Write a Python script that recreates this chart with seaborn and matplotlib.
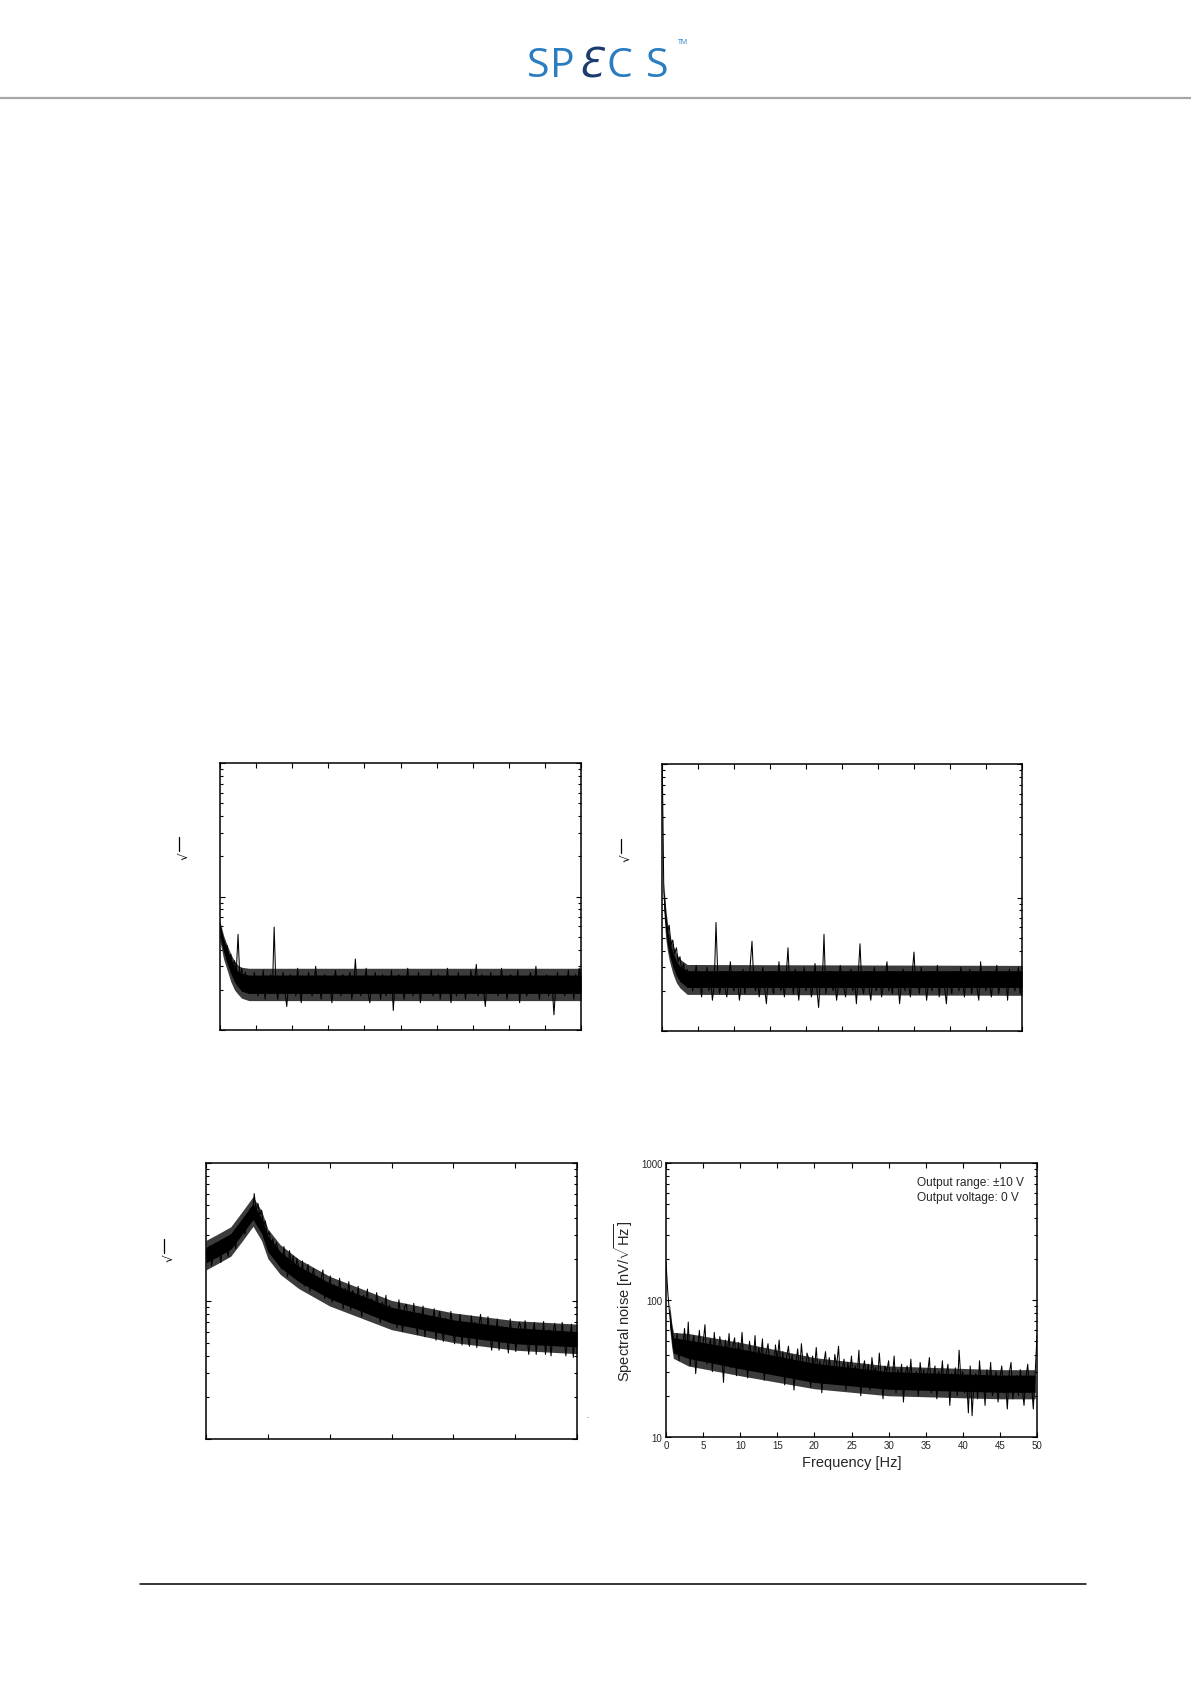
import numpy as np
import matplotlib
matplotlib.use("Agg")
import matplotlib.pyplot as plt
from matplotlib.lines import Line2D
from matplotlib.ticker import LogLocator, NullFormatter, FixedLocator
import seaborn as sns

sns.set_theme(style="ticks")
plt.rcParams['font.family'] = ['Liberation Sans', 'DejaVu Sans']
plt.rcParams['mathtext.fontset'] = 'custom'
plt.rcParams['mathtext.rm'] = 'Liberation Sans'
plt.rcParams['mathtext.it'] = 'Liberation Sans:italic'
plt.rcParams['mathtext.bf'] = 'Liberation Sans:bold'

# ---------------- data (spectral noise, nV/sqrt(Hz)) ----------------
freq_step = 0.25          # Hz, panels a, b, d
x_step_c = 0.03           # arbitrary units, panel c

tl_noise = [63, 52, 47, 40, 43, 34, 37, 30, 33, 27,
            52, 24, 29, 22, 27, 20, 25, 23, 19, 27,
            22, 18, 25, 21, 28, 17, 23, 20, 26, 19,
            59, 21, 17, 24, 22, 27, 19, 15, 23, 26,
            20, 24, 18, 29, 21, 16, 25, 22, 19, 27,
            23, 18, 21, 30, 20, 24, 17, 22, 26, 19,
            25, 21, 16, 23, 28, 20, 22, 18, 26, 24,
            19, 23, 27, 17, 21, 34, 20, 24, 18, 25,
            22, 29, 19, 16, 24, 21, 27, 20, 23, 17,
            26, 22, 18, 25, 20, 28, 14, 23, 21, 26,
            19, 24, 17, 22, 29, 20, 25, 18, 23, 21,
            27, 16, 22, 25, 19, 24, 21, 28, 18, 23,
            20, 26, 17, 22, 24, 19, 29, 21, 16, 25,
            23, 18, 27, 20, 22, 25, 17, 24, 21, 28,
            19, 23, 31, 18, 22, 26, 20, 15, 24, 21,
            27, 19, 23, 25, 18, 22, 29, 20, 24, 17,
            22, 26, 19, 24, 21, 28, 16, 23, 25, 20,
            18, 24, 27, 21, 19, 30, 22, 17, 25, 23,
            20, 26, 18, 24, 22, 13, 21, 27, 19, 23,
            25, 18, 22, 28, 20, 24, 17, 26, 21, 29,
            22]
tl_core_f = [0, 0.5, 1, 1.5, 2, 2.5, 3, 4, 50]
tl_core_lo = [50, 38.5, 31.5, 26.5, 23, 21, 19.5, 18.8, 18.8]
tl_core_hi = [61, 48, 40, 34, 30, 27.5, 26.5, 25.8, 25.8]
tl_fringe_lo = [46, 34, 28, 23, 20, 18.5, 17.3, 16.6, 16.6]
tl_fringe_hi = [65, 51, 43, 37, 33, 30.5, 29.5, 29, 29]

tr_noise = [1500, 110, 72, 56, 62, 44, 48, 38, 42, 33,
            36, 28, 32, 25, 29, 22, 27, 20, 25, 31,
            21, 24, 18, 27, 23, 30, 20, 25, 17, 22,
            65, 26, 19, 23, 28, 21, 18, 25, 33, 22,
            20, 27, 24, 17, 22, 29, 19, 25, 21, 31,
            47, 23, 20, 26, 18, 24, 30, 21, 16, 25,
            28, 22, 19, 27, 23, 33, 20, 24, 18, 26,
            42, 21, 25, 19, 29, 23, 17, 26, 22, 30,
            20, 24, 27, 18, 23, 32, 21, 15, 25, 22,
            53, 19, 26, 23, 28, 20, 24, 17, 22, 31,
            25, 21, 18, 27, 23, 29, 20, 24, 16, 26,
            45, 22, 19, 25, 28, 21, 17, 24, 30, 20,
            23, 27, 18, 22, 26, 33, 20, 24, 19, 28,
            21, 25, 16, 23, 29, 20, 26, 22, 18, 27,
            39, 21, 24, 19, 30, 22, 26, 17, 23, 28,
            20, 25, 22, 31, 18, 24, 27, 21, 16, 26,
            23, 19, 28, 22, 25, 20, 30, 24, 18, 26,
            22, 29, 19, 24, 27, 21, 17, 33, 23, 25,
            20, 28, 22, 18, 26, 24, 31, 19, 23, 27,
            21, 25, 17, 29, 22, 26, 20, 24, 30, 19,
            27]
tr_core_f = [0.25, 0.5, 0.75, 1.0, 1.5, 2.0, 2.5, 3.5, 50]
tr_core_lo = [90, 58, 45, 38, 30.5, 26, 23.5, 21.2, 21.2]
tr_core_hi = [118, 75, 58, 48, 39, 33.5, 30.5, 28.3, 28.3]
tr_fringe_lo = [80, 50, 40, 34, 27, 23, 21, 18.8, 18.5]
tr_fringe_hi = [130, 85, 65, 54, 44, 38, 34.5, 31.5, 31]

bl_noise = [232, 198, 251, 180, 220, 262, 205, 238, 190, 270,
            226, 248, 210, 292, 252, 276, 240, 318, 285, 330,
            362, 305, 415, 372, 470, 398, 600, 452, 510, 420,
            455, 350, 380, 292, 318, 260, 282, 238, 265, 221,
            225, 170, 248, 190, 150, 232, 181, 212, 146, 203,
            176, 140, 195, 128, 158, 184, 118, 150, 172, 132,
            150, 116, 144, 168, 104, 134, 122, 152, 98, 131,
            126, 101, 146, 112, 88, 124, 106, 138, 86, 119,
            112, 88, 128, 98, 77, 110, 94, 122, 80, 104,
            100, 78, 115, 88, 70, 98, 84, 110, 72, 93,
            70, 88, 82, 64, 102, 76, 60, 90, 95, 69,
            84, 66, 96, 72, 57, 82, 69, 92, 55, 78,
            61, 77, 68, 88, 52, 71, 84, 65, 51, 75,
            72, 57, 84, 64, 49, 70, 60, 80, 48, 68,
            68, 55, 47, 78, 61, 70, 46, 65, 80, 58,
            65, 52, 77, 59, 44, 64, 56, 74, 44, 62,
            50, 64, 57, 42, 74, 54, 62, 43, 61, 70,
            62, 49, 72, 56, 41, 60, 53, 70, 41, 59,
            59, 48, 71, 41, 55, 62, 40, 57, 69, 52,
            60, 47, 70, 54, 40, 58, 51, 68, 39, 57,
            58]
bl_core_x = [0, 0.2, 0.4, 0.6, 0.76, 0.9, 1.0, 1.2, 1.5, 2.0, 3.0, 4.0, 5.0, 6.0]
bl_core_lo = [189, 211, 237, 311, 390, 307, 228, 175, 138, 104, 69, 56, 49, 46.5]
bl_core_hi = [245, 274, 308, 405, 507, 399, 296, 228, 179, 135, 90, 73, 64, 60]
bl_fringe_lo = [168, 188, 211, 277, 348, 273, 203, 156, 123, 92, 62, 50, 44, 41.5]
bl_fringe_hi = [275, 307, 345, 454, 570, 448, 333, 256, 201, 151, 101, 82, 72, 68]

br_noise = [189, 112, 78, 58, 52, 41, 57, 36, 50, 44,
            62, 38, 69, 33, 47, 55, 29, 43, 60, 37,
            48, 66, 34, 45, 52, 30, 58, 41, 36, 54,
            44, 25, 51, 39, 57, 32, 46, 53, 28, 49,
            38, 58, 34, 43, 27, 50, 40, 35, 55, 31,
            45, 37, 52, 26, 41, 48, 33, 39, 29, 47,
            36, 51, 30, 42, 24, 38, 46, 32, 40, 22,
            35, 44, 29, 48, 33, 26, 41, 37, 23, 39,
            31, 45, 28, 36, 21, 34, 42, 27, 38, 30,
            25, 40, 33, 46, 26, 31, 37, 22, 35, 29,
            39, 24, 33, 28, 43, 20, 30, 36, 26, 34,
            22, 38, 29, 32, 25, 41, 27, 19, 33, 30,
            36, 24, 28, 39, 21, 31, 26, 34, 18, 29,
            33, 25, 37, 22, 28, 30, 20, 35, 26, 31,
            23, 29, 38, 21, 27, 33, 19, 30, 25, 36,
            22, 28, 34, 17, 29, 24, 32, 20, 43, 26,
            30, 21, 27, 15, 33, 14.3, 25, 29, 19, 36,
            24, 28, 17, 31, 22, 35, 20, 26, 30, 18,
            27, 33, 21, 25, 16, 29, 35, 19, 24, 28,
            20, 31, 23, 17, 27, 34, 21, 25, 16, 29,
            55]
br_core_f = [0.5, 0.75, 1, 3, 10, 20, 30, 45, 49.75]
br_core_lo = [68, 50, 41, 37.5, 31.5, 25, 22.3, 21.2, 21.2]
br_core_hi = [87, 64, 53, 51, 44, 34.5, 30, 28.3, 28.3]
br_fringe_lo = [63, 46, 37.5, 33, 28, 22.5, 20, 19, 19]
br_fringe_hi = [94, 69, 58, 57, 49, 38, 33, 31, 31]

freq_ticks = [0, 5, 10, 15, 20, 25, 30, 35, 40, 45, 50]
freq_ticklabels = ["0", "5", "10", "15", "20", "25", "30", "35", "40", "45", "50"]
c_ticks = [0, 1, 2, 3, 4, 5, 6]
y_ticks = [10, 100, 1000]
y_ticklabels = ["10", "100", "1000"]

# ---------------- figure ----------------
W, H = 1191, 1683
fig = plt.figure(figsize=(W / 100, H / 100), dpi=100)


def px_axes(x0, y0, x1, y1):
    return fig.add_axes([x0 / W, 1 - y1 / H, (x1 - x0) / W, (y1 - y0) / H])


def style_axes(ax, xlim, xticks, labels=False):
    ax.set_yscale('log')
    ax.set_ylim(10, 1000)
    ax.set_xlim(*xlim)
    ax.xaxis.set_major_locator(FixedLocator(xticks))
    ax.yaxis.set_major_locator(FixedLocator(y_ticks))
    ax.yaxis.set_minor_locator(LogLocator(base=10, subs=np.arange(2, 10)))
    ax.yaxis.set_minor_formatter(NullFormatter())
    for s in ax.spines.values():
        s.set_visible(True)
        s.set_linewidth(1.1)
        s.set_color('black')
    ax.tick_params(which='both', direction='in', top=True, right=True,
                   bottom=True, left=True, color='black', width=0.8)
    ax.tick_params(which='major', length=3.5, pad=2.5, labelsize=7)
    ax.tick_params(which='minor', length=2)
    ax.set_xlabel("")
    ax.set_ylabel("")
    if not labels:
        ax.tick_params(which='both', labelbottom=False, labelleft=False)
    ax.set_facecolor('white')


def draw(ax, x, y, cx, clo, chi, flo, fhi):
    ax.fill_between(cx, flo, fhi, color='#3c3c3c', linewidth=0)
    ax.fill_between(cx, clo, chi, color='black', linewidth=0)
    sns.lineplot(x=x, y=y, ax=ax, color='black', linewidth=0.75,
                 sort=False, errorbar=None)


f_ab = np.arange(len(tl_noise)) * freq_step
x_c = np.arange(len(bl_noise)) * x_step_c

ax_tl = px_axes(220, 764, 581, 1031)
draw(ax_tl, f_ab, tl_noise, tl_core_f, tl_core_lo, tl_core_hi, tl_fringe_lo, tl_fringe_hi)
style_axes(ax_tl, (0, 50), freq_ticks)

ax_tr = px_axes(662, 765, 1022, 1032)
draw(ax_tr, f_ab, tr_noise, tr_core_f, tr_core_lo, tr_core_hi, tr_fringe_lo, tr_fringe_hi)
style_axes(ax_tr, (0, 50), freq_ticks)

ax_bl = px_axes(206, 1164, 577, 1440)
draw(ax_bl, x_c, bl_noise, bl_core_x, bl_core_lo, bl_core_hi, bl_fringe_lo, bl_fringe_hi)
style_axes(ax_bl, (0, 6), c_ticks)

ax_br = px_axes(666, 1164, 1037, 1438)
draw(ax_br, f_ab, br_noise, br_core_f, br_core_lo, br_core_hi, br_fringe_lo, br_fringe_hi)
style_axes(ax_br, (0, 50), freq_ticks, labels=True)
ax_br.set_xticklabels(freq_ticklabels)
ax_br.set_yticks(y_ticks)
ax_br.set_yticklabels(y_ticklabels)
ax_br.set_xlabel("Frequency [Hz]", fontsize=10.5, labelpad=3)
ax_br.set_ylabel(r"Spectral noise [nV/$\sqrt{\mathrm{Hz}}$]", fontsize=10.5, labelpad=4)
ax_br.text(0.676, 0.951, "Output range: \u00b110 V\nOutput voltage: 0 V",
           transform=ax_br.transAxes, ha='left', va='top', fontsize=8.6,
           linespacing=1.3)

# leftover radical fragments of the other panels' y labels
for (px, py) in [(184, 846), (626, 848), (169, 1248)]:
    fig.text((px + 1) / W, 1 - (py + 10) / H, "\u221a", rotation=90,
             ha='center', va='center', fontsize=8.5, color='black',
             family='DejaVu Sans')
    fig.add_artist(Line2D([(px - 5) / W, (px - 5) / W],
                          [1 - (py - 8) / H, 1 - (py + 6) / H],
                          color='black', linewidth=0.9,
                          transform=fig.transFigure))
fig.text(588 / W, 1 - 1418 / H, "-", fontsize=4, ha='center', va='center')

# ---------------- page header / footer ----------------
blue = '#2a7dc0'
navy = '#1c3c6e'
logo_letters = ["S", "P", "C", "S"]
logo_centers = [538.5, 562, 619, 657]
for ch, cx in zip(logo_letters, logo_centers):
    fig.text(cx / W, 1 - 77 / H, ch, fontsize=29.5, color=blue, family='Open Sans',
             ha='center', va='baseline')
fig.text(590.5 / W, 1 - 77 / H, "\u0190", fontsize=29, color=navy,
         family='DejaVu Sans', style='oblique', ha='center', va='baseline')
fig.text(683 / W, 1 - 44 / H, "TM", fontsize=5, color=blue, family='Open Sans',
         ha='center', va='baseline')

fig.add_artist(Line2D([0, 1], [1 - 99 / H, 1 - 99 / H], color='#a6a6a6',
                      linewidth=1.6, transform=fig.transFigure))
fig.add_artist(Line2D([139.5 / W, 1086 / W], [1 - 1585 / H, 1 - 1585 / H],
                      color='black', linewidth=1.1, transform=fig.transFigure))

fig.savefig("out.png", dpi=100, facecolor='white')
